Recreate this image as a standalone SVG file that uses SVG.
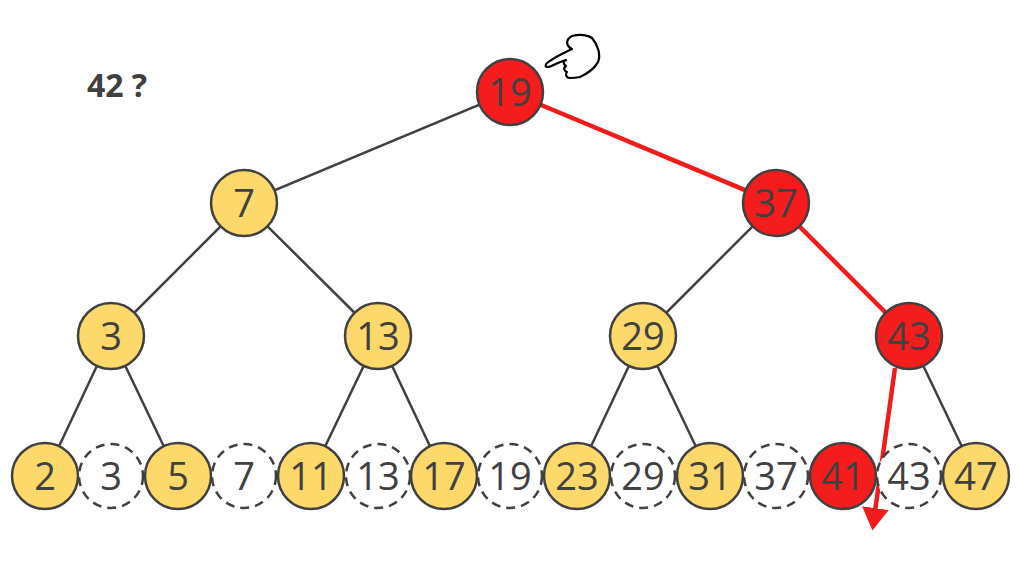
<svg xmlns="http://www.w3.org/2000/svg" width="1024" height="576" viewBox="0 0 1024 576">
<style>
.e{stroke:#404040;stroke-width:2.5;fill:none}
.r{stroke:#f01c1c;stroke-width:4.5;fill:none}
.n circle{stroke:#404040;stroke-width:2.5}
.y circle{fill:#fdd86a}
.d circle{fill:#fff;stroke-dasharray:9 6}
.h circle{fill:#f41c1c}
text{font-family:"Open Sans","Liberation Sans",sans-serif;font-size:38px;fill:#404040;text-anchor:middle}
</style>
<defs><marker id="a" markerWidth="6" markerHeight="6" refX="4" refY="3" orient="auto" markerUnits="strokeWidth"><path d="M0,0L5,3L0,6z" fill="#f01c1c"/></marker></defs>
<g id="connectors">
<path class="e" d="M510,92L244,203M244,203L111,336M244,203L378,336M776,203L643,336M909,336L976,476M111,336L45,476M111,336L178,476M378,336L311,476M378,336L444,476M643,336L577,476M643,336L710,476"/>
<path class="r" d="M510,92L776,203L909,336"/>
<path class="r" d="M895,368L873,526" marker-end="url(#a)"/>
</g>
<g class="n d" id="d3"><circle cx="111" cy="476" r="32"/><text x="111" y="490">3</text></g>
<g class="n d" id="d7"><circle cx="244" cy="476" r="32"/><text x="244" y="490">7</text></g>
<g class="n d" id="d13"><circle cx="378" cy="476" r="32"/><text x="378" y="490">13</text></g>
<g class="n d" id="d19"><circle cx="510" cy="476" r="32"/><text x="510" y="490">19</text></g>
<g class="n d" id="d29"><circle cx="643" cy="476" r="32"/><text x="643" y="490">29</text></g>
<g class="n d" id="d37"><circle cx="776" cy="476" r="32"/><text x="776" y="490">37</text></g>
<g class="n d" id="d43"><circle cx="909" cy="476" r="32"/><text x="909" y="490">43</text></g>
<g class="n h" id="n19"><circle cx="510" cy="92" r="33"/><text x="510" y="106">19</text></g>
<g class="n y" id="n7"><circle cx="244" cy="203" r="33"/><text x="244" y="217">7</text></g>
<g class="n h" id="n37"><circle cx="776" cy="203" r="33"/><text x="776" y="217">37</text></g>
<g class="n y" id="n3"><circle cx="111" cy="336" r="33"/><text x="111" y="350">3</text></g>
<g class="n y" id="n13"><circle cx="378" cy="336" r="33"/><text x="378" y="350">13</text></g>
<g class="n y" id="n29"><circle cx="643" cy="336" r="33"/><text x="643" y="350">29</text></g>
<g class="n h" id="n43"><circle cx="909" cy="336" r="33"/><text x="909" y="350">43</text></g>
<g class="n y" id="n2"><circle cx="45" cy="476" r="33"/><text x="45" y="490">2</text></g>
<g class="n y" id="n5"><circle cx="178" cy="476" r="33"/><text x="178" y="490">5</text></g>
<g class="n y" id="n11"><circle cx="311" cy="476" r="33"/><text x="311" y="490">11</text></g>
<g class="n y" id="n17"><circle cx="444" cy="476" r="33"/><text x="444" y="490">17</text></g>
<g class="n y" id="n23"><circle cx="577" cy="476" r="33"/><text x="577" y="490">23</text></g>
<g class="n y" id="n31"><circle cx="710" cy="476" r="33"/><text x="710" y="490">31</text></g>
<g class="n h" id="n41"><circle cx="843" cy="476" r="33"/><text x="843" y="490">41</text></g>
<g class="n y" id="n47"><circle cx="976" cy="476" r="33"/><text x="976" y="490">47</text></g>
<text x="117" y="97" style="font-weight:bold;font-size:32px">42 ?</text>
<g id="hand" fill="#fff" stroke="#000" stroke-width="2.2" stroke-linejoin="round">
<path d="M547,63C556,56 566,52 572,49C566,46 565,40 572,36C580,34 588,35 592,38C598,45 601,55 598,62C594,70 586,74 580,77C576,78 572,78 569,78C566,77 565,74 567,72C564,71 563,68 566,66C563,64 563,61 566,60C558,62 551,67 548,67C545,67 545,65 547,63Z"/>
</g>
</svg>
